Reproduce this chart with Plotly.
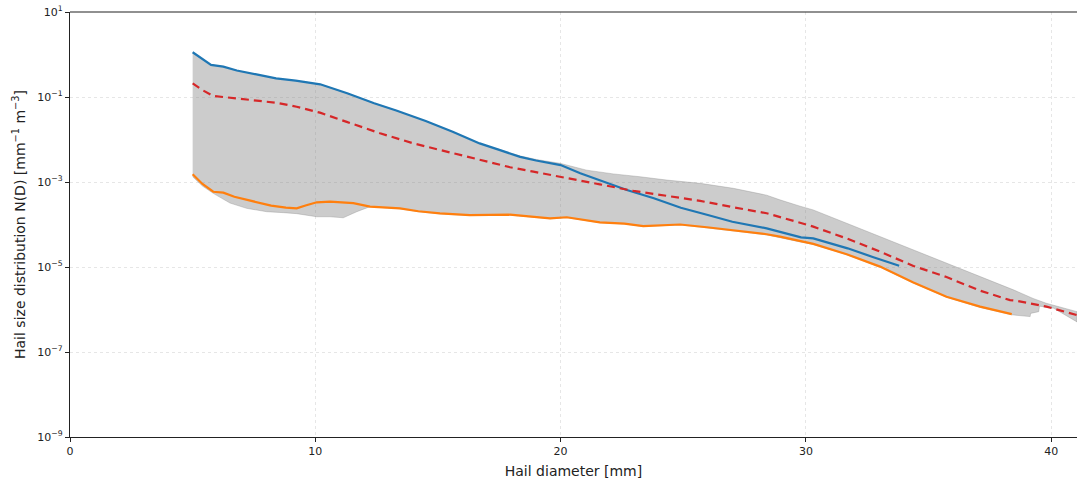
import plotly.graph_objects as go

# ---- data ----
blue_x = [5.0, 5.4, 5.75, 6.25, 6.8, 7.6, 8.4, 9.2, 10.2, 11.3, 12.4, 13.3, 14.5, 15.6, 16.7,
          17.5, 18.35, 19.0, 20.0, 20.8, 21.6, 22.7, 23.8, 24.9, 26.0, 27.0, 28.4, 28.9, 29.8,
          30.3, 31.7, 32.75, 33.8]
blue_y = [1.13, 0.78, 0.57, 0.52, 0.42, 0.34, 0.275, 0.242, 0.199, 0.122, 0.071, 0.048, 0.0272,
          0.0153, 0.0081, 0.0057, 0.0039, 0.0032, 0.0025, 0.0016, 0.00111, 0.00065, 0.000413,
          0.000248, 0.000167, 0.000116, 8.1e-5, 6.8e-5, 5.0e-5, 4.7e-5, 2.75e-5, 1.7e-5, 1.07e-5]

orange_x = [5.0, 5.4, 5.84, 6.25, 6.7, 7.2, 8.2, 8.8, 9.24, 9.6, 10.06, 10.6, 11.55, 12.23,
            13.45, 14.2, 15.08, 16.3, 17.94, 19.57, 20.25, 21.6, 22.6, 23.37, 24.87, 25.96,
            27.3, 28.4, 28.94, 29.76, 30.3, 31.66, 33.02, 34.38, 35.73, 37.1, 38.39]
orange_y = [1.52e-3, 9.0e-4, 5.9e-4, 5.6e-4, 4.5e-4, 3.8e-4, 2.77e-4, 2.5e-4, 2.4e-4, 2.8e-4,
            3.33e-4, 3.47e-4, 3.17e-4, 2.63e-4, 2.4e-4, 2.05e-4, 1.82e-4, 1.67e-4, 1.7e-4,
            1.4e-4, 1.48e-4, 1.12e-4, 1.05e-4, 9.2e-5, 1.0e-4, 8.6e-5, 7.0e-5, 5.9e-5, 5.2e-5,
            4.0e-5, 3.5e-5, 2.0e-5, 1.02e-5, 4.3e-6, 2.0e-6, 1.17e-6, 7.8e-7]

red_x = [5.0, 5.4, 5.84, 7.2, 8.43, 9.24, 10.19, 11.28, 12.64, 14.0, 15.36, 16.71, 17.94, 18.89,
         20.25, 21.6, 22.96, 24.33, 25.69, 27.04, 28.4, 29.76, 30.3, 31.66, 33.02, 34.38, 35.73,
         37.1, 38.32, 38.6, 39.28, 39.8, 41.05]
red_y = [0.21, 0.145, 0.106, 0.088, 0.073, 0.059, 0.0428, 0.026, 0.014, 0.0081, 0.0052, 0.0033,
         0.00222, 0.00175, 0.00122, 0.00088, 0.00062, 0.00047, 0.00036, 0.000254, 0.000184,
         0.00011, 8.9e-5, 4.7e-5, 2.3e-5, 1.06e-5, 5.8e-6, 2.77e-6, 1.66e-6, 1.6e-6, 1.35e-6,
         1.17e-6, 7.4e-7]

band_upper_x = [5.0, 5.4, 5.75, 6.25, 6.8, 7.6, 8.4, 9.2, 10.2, 11.3, 12.4, 13.3, 14.5, 15.6,
                16.7, 17.5, 18.35, 19.0, 19.98, 21.06, 22.15, 23.24, 24.33, 25.69, 27.04, 28.4,
                28.94, 29.76, 30.3, 31.66, 33.02, 34.38, 35.73, 37.1, 38.46, 39.26, 39.8, 41.05]
band_upper_y = [1.13, 0.78, 0.57, 0.52, 0.42, 0.34, 0.275, 0.242, 0.199, 0.122, 0.071, 0.048,
                0.0272, 0.0153, 0.0081, 0.0058, 0.0041, 0.0034, 0.00275, 0.0019, 0.00155, 0.00133,
                0.00111, 0.00093, 0.00071, 0.00049, 0.00038, 0.00027, 0.00022, 1.07e-4, 5.2e-5,
                2.6e-5, 1.23e-5, 5.9e-6, 2.9e-6, 1.82e-6, 1.4e-6, 8.9e-7]

band_lower_x = [5.0, 5.4, 5.84, 6.52, 7.2, 8.02, 8.7, 9.24, 10.06, 10.6, 11.14, 11.69, 12.23,
                13.45, 14.2, 15.08, 16.3, 17.94, 19.57, 20.25, 21.6, 22.6, 23.37, 24.87, 25.96,
                27.3, 28.4, 28.94, 29.76, 30.3, 31.66, 33.02, 34.38, 35.73, 37.1, 38.39, 39.14,
                39.16, 39.49, 39.52, 40.1, 41.05]
band_lower_y = [1.33e-3, 8.0e-4, 5.4e-4, 3.2e-4, 2.4e-4, 2.0e-4, 1.9e-4, 1.8e-4, 1.52e-4,
                1.52e-4, 1.44e-4, 2.0e-4, 2.63e-4, 2.35e-4, 2.0e-4, 1.78e-4, 1.63e-4, 1.66e-4,
                1.37e-4, 1.45e-4, 1.1e-4, 1.03e-4, 9.0e-5, 9.8e-5, 8.4e-5, 6.8e-5, 5.7e-5,
                5.0e-5, 3.9e-5, 3.4e-5, 1.95e-5, 1.0e-5, 4.2e-6, 1.95e-6, 1.12e-6, 7.5e-7,
                6.8e-7, 8.1e-7, 8.9e-7, 1.2e-6, 1.07e-6, 5.1e-7]

y_tickvals = [1e1, 1e-1, 1e-3, 1e-5, 1e-7, 1e-9]
y_ticktext = ["10<sup>1</sup>", "10<sup>\u22121</sup>", "10<sup>\u22123</sup>",
              "10<sup>\u22125</sup>", "10<sup>\u22127</sup>", "10<sup>\u22129</sup>"]
x_tickvals = [0, 10, 20, 30, 40]

# ---- figure ----
fig = go.Figure()

poly_x = band_upper_x + band_lower_x[::-1]
poly_y = band_upper_y + band_lower_y[::-1]
fig.add_trace(go.Scatter(x=poly_x, y=poly_y, mode="lines", fill="toself",
                         fillcolor="rgba(128,128,128,0.4)",
                         line=dict(width=0.8, color="rgba(128,128,128,0.4)"),
                         hoverinfo="skip", showlegend=False))

fig.add_trace(go.Scatter(x=blue_x, y=blue_y, mode="lines",
                         line=dict(color="#1f77b4", width=2.2), showlegend=False))
fig.add_trace(go.Scatter(x=orange_x, y=orange_y, mode="lines",
                         line=dict(color="#ff7f0e", width=2.2), showlegend=False))
fig.add_trace(go.Scatter(x=red_x, y=red_y, mode="lines",
                         line=dict(color="#d62728", width=2.2, dash="8px,5px"),
                         showlegend=False))

font_family = "DejaVu Sans, sans-serif"
fig.update_layout(
    width=1077, height=479,
    margin=dict(l=70, r=0, t=12, b=42),
    paper_bgcolor="white", plot_bgcolor="white",
    font=dict(family=font_family, color="#222222"),
    xaxis=dict(
        range=[0, 41.05], tickvals=x_tickvals, ticks="outside", ticklen=4,
        tickcolor="#222", tickfont=dict(size=11),
        showline=True, linecolor="#222", linewidth=1.2, mirror=False,
        showgrid=True, gridcolor="#e6e6e6", griddash="dot", gridwidth=1,
        zeroline=False,
        title=dict(text="Hail diameter [mm]", font=dict(size=14), standoff=8),
    ),
    yaxis=dict(
        type="log", range=[-9, 1], tickvals=y_tickvals, ticktext=y_ticktext,
        ticks="outside", ticklen=4, tickcolor="#222", tickfont=dict(size=11),
        showline=True, linecolor="#222", linewidth=1.2,
        showgrid=True, gridcolor="#e6e6e6", griddash="dot", gridwidth=1,
        zeroline=False,
        title=dict(text="Hail size distribution N(D) [mm<sup>\u22121</sup> m<sup>\u22123</sup>]",
                   font=dict(size=14), standoff=8),
    ),
)

# top spine
fig.add_shape(type="line", xref="paper", yref="paper", x0=0, x1=1, y0=1, y1=1,
              layer="above", line=dict(color="#222", width=1.2))

fig.write_html("out.html", config={"displayModeBar": False})

# remove the default page margin so the figure fills the window exactly
with open("out.html", "r", encoding="utf-8") as f:
    html = f.read()
html = html.replace("<head>", "<head><style>html,body{margin:0;padding:0;overflow:hidden;}</style>", 1)
with open("out.html", "w", encoding="utf-8") as f:
    f.write(html)
